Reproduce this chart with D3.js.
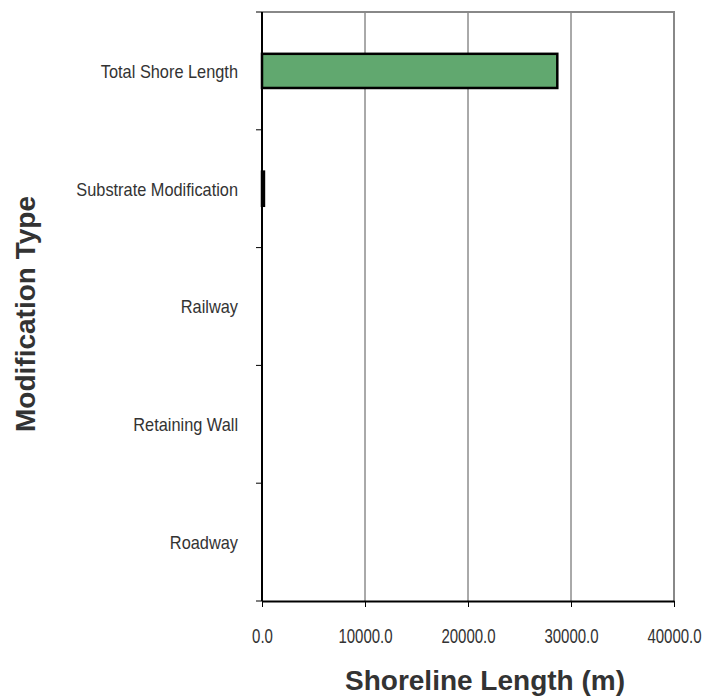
<!DOCTYPE html>
<html>
<head>
<meta charset="utf-8">
<script src="https://cdn.jsdelivr.net/npm/d3@7"></script>
<style>
  body { margin: 0; background: #fff; }
  text { font-family: "Liberation Sans", Arial, sans-serif; fill: #333; }
  .title { font-weight: bold; }
</style>
</head>
<body>
<div class="chart"></div>
<script>
// Categories, top to bottom as drawn
var categories = ["Total Shore Length", "Substrate Modification", "Railway", "Retaining Wall", "Roadway"];
var lengths = [28670, 190, 0, 0, 0];
var xTicks = [0, 10000, 20000, 30000, 40000];

var width = 707, height = 698;
var margin = {top: 12, right: 33, bottom: 97, left: 262};
var innerW = width - margin.left - margin.right;
var innerH = height - margin.top - margin.bottom;

var svg = d3.select(".chart").append("svg")
    .attr("width", width)
    .attr("height", height);

var g = svg.append("g")
    .attr("transform", "translate(" + margin.left + "," + margin.top + ")");

var x = d3.scaleLinear().domain([0, 40000]).range([0, innerW]);
var y = d3.scaleBand().domain(categories).range([0, innerH])
    .paddingInner(0.71).paddingOuter(0.355);

// squeeze text horizontally, the original uses a narrow face
function narrow(sel, k) {
    sel.each(function() {
        var w = this.getComputedTextLength();
        d3.select(this).attr("textLength", w * k).attr("lengthAdjust", "spacingAndGlyphs");
    });
}

// vertical gridlines
g.selectAll(".grid")
    .data(xTicks.slice(1, -1))
    .enter().append("line")
    .attr("x1", d => x(d)).attr("x2", d => x(d))
    .attr("y1", 0).attr("y2", innerH)
    .attr("stroke", "#555").attr("stroke-width", 1);

// plot frame (top and right in grey)
g.append("path")
    .attr("d", "M0,0H" + innerW + "V" + innerH)
    .attr("fill", "none").attr("stroke", "#888").attr("stroke-width", 2);

// bars
g.selectAll(".bar")
    .data(categories)
    .enter().append("rect")
    .attr("x", 0)
    .attr("y", d => y(d))
    .attr("width", (d, i) => x(lengths[i]))
    .attr("height", y.bandwidth())
    .attr("fill", "#61a86f")
    .attr("stroke", "#000")
    .attr("stroke-width", 2.5);

// x axis
var xAxis = g.append("g")
    .attr("transform", "translate(0," + innerH + ")")
    .call(d3.axisBottom(x).tickValues(xTicks).tickFormat(d3.format(".1f")).tickSizeInner(6).tickSizeOuter(0).tickPadding(22));
xAxis.select(".domain").attr("stroke", "#000").attr("stroke-width", 2);
xAxis.selectAll("line").attr("stroke", "#000");
xAxis.selectAll("text")
    .attr("font-size", 20).attr("fill", "#333")
    .style("font-family", "'Liberation Sans', Arial, sans-serif")
    .call(narrow, 0.75);

// y axis: ticks on band boundaries
var yAxis = g.append("g");
yAxis.append("line")
    .attr("x1", 0).attr("x2", 0).attr("y1", 0).attr("y2", innerH)
    .attr("stroke", "#000").attr("stroke-width", 2);
yAxis.selectAll(".tick")
    .data(d3.range(categories.length + 1))
    .enter().append("line")
    .attr("x1", -6).attr("x2", 0)
    .attr("y1", d => d * y.step()).attr("y2", d => d * y.step())
    .attr("stroke", "#000");
yAxis.selectAll(".lab")
    .data(categories)
    .enter().append("text")
    .attr("x", -24)
    .attr("y", d => y(d) + y.bandwidth() / 2)
    .attr("dy", "0.36em")
    .attr("text-anchor", "end")
    .attr("font-size", 19)
    .text(d => d)
    .call(narrow, 0.86);

// axis titles
svg.append("text")
    .attr("class", "title")
    .attr("x", 485)
    .attr("y", 690)
    .attr("text-anchor", "middle")
    .attr("font-size", 28)
    .text("Shoreline Length (m)");

svg.append("text")
    .attr("class", "title")
    .attr("transform", "translate(35," + 314 + ") rotate(-90)")
    .attr("text-anchor", "middle")
    .attr("font-size", 28)
    .text("Modification Type");
</script>
</body>
</html>
